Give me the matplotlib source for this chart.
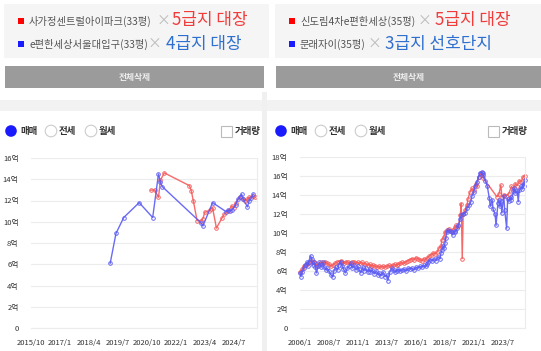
import matplotlib
matplotlib.use('Agg')
import matplotlib.pyplot as plt
from matplotlib.patches import Rectangle, Circle

plt.rcParams['font.family'] = ['Noto Sans CJK KR', 'DejaVu Sans']

# ---- data (억) ----
# left: 사가정센트럴아이파크(red) vs e편한세상서울대입구(blue)
left_red_dates = ['2020-12', '2021-02', '2021-04', '2021-05', '2021-07', '2022-08', '2022-09', '2022-10',
                  '2022-12', '2023-02', '2023-03', '2023-04', '2023-06', '2023-07', '2023-08', '2023-10',
                  '2024-01', '2024-02', '2024-04', '2024-06', '2024-07', '2024-08', '2024-10', '2024-12',
                  '2025-01', '2025-02', '2025-03', '2025-05', '2025-06']
left_red_vals = [12.97, 13.0, 12.3, 13.9, 14.6, 13.4, 12.9, 12.0,
                 10.1, 10.1, 10.3, 10.9, 11.0, 11.2, 11.3, 9.4,
                 10.4, 10.7, 11.0, 11.5, 11.3, 11.8, 12.3, 12.1,
                 12.0, 12.1, 12.3, 12.4, 12.3]
left_blue_dates = ['2019-03', '2019-06', '2019-10', '2020-06', '2021-01', '2021-04', '2021-05', '2021-06',
                   '2023-02', '2023-03', '2023-08', '2024-03', '2024-04', '2024-05', '2024-06', '2024-08',
                   '2024-09', '2024-10', '2024-11', '2024-12', '2025-02', '2025-03', '2025-04', '2025-05']
left_blue_vals = [6.1, 8.9, 10.4, 11.8, 10.4, 14.5, 13.7, 13.3,
                  9.9, 9.6, 11.8, 10.95, 11.1, 11.0, 11.1, 11.6,
                  12.1, 12.3, 12.6, 12.1, 11.4, 12.0, 12.2, 12.6]
left_xticks = ['2015/10', '2017/1', '2018/4', '2019/7', '2020/10', '2022/1', '2023/4', '2024/7']

# right: 신도림4차e편한세상(red) vs 문래자이(blue)
right_red_dates = ['2006-01', '2006-03', '2006-05', '2006-07', '2006-09', '2006-11', '2007-01', '2007-03',
                   '2007-05', '2007-07', '2007-09', '2007-11', '2008-01', '2008-03', '2008-05', '2008-07',
                   '2008-09', '2008-11', '2009-01', '2009-03', '2009-05', '2009-07', '2009-09', '2009-11',
                   '2010-01', '2010-03', '2010-05', '2010-07', '2010-09', '2010-11', '2011-01', '2011-03',
                   '2011-05', '2011-07', '2011-09', '2011-11', '2012-01', '2012-03', '2012-05', '2012-07',
                   '2012-09', '2012-11', '2013-01', '2013-03', '2013-05', '2013-07', '2013-09', '2013-11',
                   '2014-01', '2014-03', '2014-05', '2014-07', '2014-09', '2014-11', '2015-01', '2015-03',
                   '2015-05', '2015-07', '2015-09', '2015-11', '2016-01', '2016-03', '2016-05', '2016-07',
                   '2016-09', '2016-11', '2017-01', '2017-03', '2017-05', '2017-07', '2017-09', '2017-11',
                   '2018-01', '2018-03', '2018-04', '2018-06', '2018-07', '2018-09', '2018-11', '2019-01',
                   '2019-03', '2019-05', '2019-07', '2019-09', '2019-11', '2019-12', '2020-01', '2020-02',
                   '2020-04', '2020-06', '2020-07', '2020-09', '2020-11', '2021-01', '2021-03', '2021-04',
                   '2021-06', '2021-08', '2021-09', '2021-11', '2023-01', '2023-03', '2023-05', '2023-06',
                   '2023-08', '2023-10', '2024-01', '2024-04', '2024-06', '2024-08', '2024-10', '2024-12',
                   '2025-02', '2025-04', '2025-06']
right_red_vals = [5.9, 6.2, 6.5, 6.6, 6.8, 7.0, 7.1, 7.0,
                  6.8, 6.5, 6.7, 6.9, 6.8, 7.0, 6.8, 6.7,
                  6.5, 6.6, 6.8, 6.9, 7.0, 7.1, 6.9, 6.8,
                  7.0, 6.9, 6.8, 6.9, 7.0, 6.8, 6.9, 6.8,
                  6.9, 6.7, 6.8, 6.6, 6.7, 6.5, 6.6, 6.5,
                  6.4, 6.5, 6.4, 6.5, 6.4, 6.5, 6.6, 6.5,
                  6.6, 6.7, 6.6, 6.7, 6.8, 6.9, 6.8, 7.0,
                  7.1, 7.2, 7.3, 7.2, 7.4, 7.3, 7.2, 7.1,
                  7.3, 7.2, 7.4, 7.6, 7.7, 7.9, 7.8, 8.0,
                  8.4, 8.6, 9.3, 9.6, 10.1, 10.3, 10.4, 10.2,
                  10.3, 10.6, 10.8, 10.7, 11.9, 13.1, 7.3, 12.0,
                  12.4, 13.0, 13.6, 14.3, 14.7, 14.5, 15.2, 14.9,
                  15.9, 16.1, 16.3, 15.75, 13.8, 14.1, 15.05, 13.8,
                  14.0, 13.9, 14.1, 14.9, 14.6, 15.2, 15.0, 15.5,
                  15.4, 15.9, 16.0]
right_blue_dates = ['2006-01', '2006-02', '2006-03', '2006-05', '2006-06', '2006-08', '2006-09', '2006-10',
                    '2006-12', '2007-01', '2007-02', '2007-04', '2007-05', '2007-06', '2007-08', '2007-09',
                    '2007-11', '2008-01', '2008-02', '2008-04', '2008-05', '2008-07', '2008-09', '2008-11',
                    '2008-12', '2009-02', '2009-04', '2009-05', '2009-07', '2009-09', '2009-10', '2009-12',
                    '2010-02', '2010-04', '2010-06', '2010-07', '2010-09', '2010-11', '2011-01', '2011-02',
                    '2011-04', '2011-06', '2011-07', '2011-09', '2011-11', '2012-01', '2012-02', '2012-04',
                    '2012-06', '2012-08', '2012-10', '2012-11', '2013-01', '2013-03', '2013-05', '2013-07',
                    '2013-08', '2013-10', '2013-12', '2014-02', '2014-03', '2014-05', '2014-07', '2014-09',
                    '2014-11', '2015-01', '2015-03', '2015-05', '2015-07', '2015-09', '2015-11', '2016-01',
                    '2016-03', '2016-05', '2016-07', '2016-09', '2016-11', '2017-01', '2017-02', '2017-04',
                    '2017-06', '2017-08', '2017-10', '2017-12', '2018-02', '2018-03', '2018-04', '2018-05',
                    '2018-06', '2018-07', '2018-08', '2018-09', '2018-10', '2018-12', '2019-02', '2019-03',
                    '2019-05', '2019-06', '2019-08', '2019-09', '2019-11', '2019-12', '2020-02', '2020-04',
                    '2020-06', '2020-08', '2020-10', '2020-11', '2021-01', '2021-02', '2021-04', '2021-06',
                    '2021-07', '2021-09', '2021-10', '2021-11', '2022-01', '2022-03', '2022-05', '2022-06',
                    '2022-08', '2022-09', '2022-11', '2022-12', '2023-02', '2023-03', '2023-04', '2023-05',
                    '2023-06', '2023-08', '2023-09', '2023-11', '2023-12', '2024-01', '2024-03', '2024-04',
                    '2024-06', '2024-07', '2024-08', '2024-10', '2024-11', '2024-12', '2025-02', '2025-03',
                    '2025-04', '2025-05', '2025-06']
right_blue_vals = [5.8, 5.4, 5.9, 6.3, 6.6, 6.9, 6.5, 7.0,
                   7.6, 7.3, 6.6, 6.9, 6.4, 5.8, 6.5, 6.9,
                   6.4, 6.9, 6.4, 6.1, 6.3, 6.0, 5.6, 5.4,
                   6.0, 6.4, 6.1, 6.6, 7.0, 6.5, 6.2, 5.8,
                   6.3, 6.5, 6.8, 6.3, 6.6, 6.1, 6.5, 6.2,
                   5.8, 6.4, 6.0, 6.3, 5.9, 6.2, 5.9, 6.1,
                   5.7, 6.0, 5.6, 5.8, 5.5, 5.9, 5.4, 5.6,
                   5.0, 5.9, 6.3, 6.1, 5.9, 6.0, 6.2, 6.0,
                   6.1, 6.2, 6.0, 6.3, 6.2, 6.3, 6.1, 6.4,
                   6.3, 6.5, 6.4, 6.6, 6.5, 6.7, 7.0, 7.2,
                   7.1, 7.3, 7.1, 7.5, 7.3, 7.9, 8.2, 8.6,
                   8.4, 8.9, 9.5, 10.1, 10.3, 10.2, 10.1, 9.8,
                   10.2, 10.1, 10.5, 10.8, 11.5, 11.9, 12.0, 12.1,
                   12.6, 12.9, 13.3, 13.9, 14.3, 14.9, 15.4, 15.9,
                   16.35, 16.4, 16.3, 16.1, 15.5, 14.9, 13.7, 12.8,
                   13.5, 12.5, 12.0, 10.8, 13.2, 13.5, 12.8, 13.4,
                   12.1, 13.9, 12.4, 10.5, 13.6, 13.4, 13.8, 13.5,
                   14.4, 14.7, 14.2, 14.4, 13.3, 14.5, 14.9, 14.6,
                   15.2, 15.0, 15.6]
right_xticks = ['2006/1', '2008/7', '2011/1', '2013/7', '2016/1', '2018/7', '2021/1', '2023/7']

RED = '#f55a5a'
BLUE = '#5a5af5'


def months(d, start):
    y, m = d.split('-')
    y0, m0 = start.split('-')
    return (int(y) - int(y0)) * 12 + int(m) - int(m0)


W, H = 541, 351
fig = plt.figure(figsize=(W / 100, H / 100), dpi=100)
bg = fig.add_axes([0, 0, 1, 1])
bg.set_xlim(0, W)
bg.set_ylim(H, 0)
bg.axis('off')


def rect(x0, y0, x1, y1, **kw):
    bg.add_patch(Rectangle((x0, y0), x1 - x0, y1 - y0, **kw))


# panel background / separators
rect(0, 100, W, 111, color='#f2f2f2', lw=0)
rect(262, 92, 267, H, color='#f0f0f0', lw=0)


def header(x0, x1, name1, tier1, name2, tier2, xs):
    rect(x0, 4, x1, 58, color='#f5f5f5', lw=0)
    rect(x0 + 1, 66, x1 - 5, 88, color='#9b9b9b', lw=0)
    bg.text((x0 + x1 - 4) / 2, 77.5, '전체삭제', color='#eeeeee', fontsize=6.3,
            fontweight='bold', ha='center', va='center')
    sx = x0 + 17
    rows = [(20.5, '#ff0000', name1, tier1, '#f23b3b', xs[0]),
            (43.5, '#1a1aff', name2, tier2, '#2f6fd0', xs[1])]
    for y, sq, name, tier, tc, (xx, xt) in rows:
        rect(sx - 3, y - 3, sx + 3, y + 3, color=sq, lw=0)
        bg.text(sx + 8, y + 0.5, name, color='#555555', fontsize=7.4, va='center')
        bg.text(xx, y + 0.5, '×', color='#bbbbbb', fontsize=10, va='center', ha='center')
        bg.text(xt, y, tier, color=tc, fontsize=12.2, va='center')


header(4, 269, '사가정센트럴아이파크(33평)', '5급지 대장', 'e편한세상서울대입구(33평)', '4급지 대장',
       [(163, 172), (154, 166)])
header(275, 546, '신도림4차e편한세상(35평)', '5급지 대장', '문래자이(35평)', '3급지 선호단지',
       [(424, 435), (374, 385)])


def radios(x0, xc):
    y = 131
    bg.add_patch(Circle((x0 + 6, y), 5.8, color='#1a1aff', lw=0))
    bg.text(x0 + 15, y, '매매', fontsize=6.8, fontweight='bold', color='#333333', va='center')
    for cx, lab in [(x0 + 46, '전세'), (x0 + 86, '월세')]:
        bg.add_patch(Circle((cx, y), 5.8, fc='white', ec='#cccccc', lw=0.8))
        bg.text(cx + 8, y, lab, fontsize=6.8, fontweight='bold', color='#333333', va='center')
    rect(xc, y - 5.5, xc + 11, y + 5.5, fc='white', ec='#bbbbbb', lw=0.8)
    bg.text(xc + 14, y, '거래량', fontsize=6.8, fontweight='bold', color='#333333', va='center')


radios(5, 221)
radios(275, 488)


def chart(box, start, xticks, step, xmax, ymax, series):
    x0, y0, x1, y1 = box
    ax = fig.add_axes([x0 / W, 1 - y1 / H, (x1 - x0) / W, (y1 - y0) / H])
    ax.set_facecolor('none')
    for dates, vals, c in series:
        xs = [months(d, start) for d in dates]
        ax.plot(xs, vals, color=c, lw=1.0, marker='o', ms=2.6, mfc='none', mew=0.7,
                alpha=0.9, clip_on=False)
    ax.set_xlim(0, xmax)
    ax.set_ylim(0, ymax)
    ax.set_xticks([i * step for i in range(len(xticks))])
    ax.set_xticklabels(xticks)
    ax.set_yticks(range(0, ymax + 1, 2))
    ax.set_yticklabels(['0'] + ['%d억' % v for v in range(2, ymax + 1, 2)])
    ax.tick_params(length=0, labelsize=5.5, colors='#333333', pad=9)
    ax.tick_params(axis='x', pad=8)
    ax.grid(axis='y', color='#ececec', lw=0.8)
    for s in ['top', 'left']:
        ax.spines[s].set_visible(False)
    ax.spines['right'].set_color('#ececec')
    ax.spines['bottom'].set_color('#ececec')
    ax.set_axisbelow(True)
    return ax


chart((31, 158, 257, 328), '2015-10', left_xticks, 15, 117, 16,
      [(left_red_dates, left_red_vals, RED), (left_blue_dates, left_blue_vals, BLUE)])
chart((300, 157, 525, 328), '2006-01', right_xticks, 30, 233, 18,
      [(right_red_dates, right_red_vals, RED), (right_blue_dates, right_blue_vals, BLUE)])

fig.savefig('out.png', dpi=100)
